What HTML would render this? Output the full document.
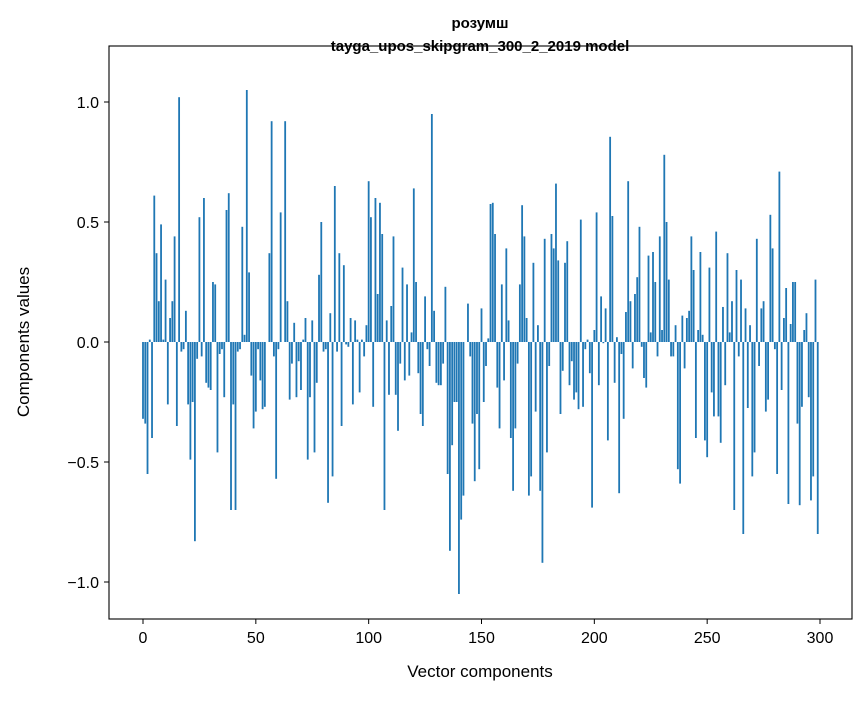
<!DOCTYPE html>
<html><head><meta charset="utf-8"><style>
html,body{margin:0;padding:0;background:#fff;}
svg text{font-family:"Liberation Sans","DejaVu Sans",sans-serif;fill:#000;}
</style></head><body>
<svg id="chart" width="867" height="696" xmlns="http://www.w3.org/2000/svg">
<text x="480" y="28" text-anchor="middle" font-size="15" font-weight="bold">розумш</text>
<text x="480" y="51" text-anchor="middle" font-size="15" font-weight="bold">tayga_upos_skipgram_300_2_2019 model</text>
<g id="bars"></g>
<rect x="109" y="46" width="743" height="573" fill="none" stroke="#000" stroke-width="1.1"/>
<g id="xt"></g>
<g id="yt"></g>
<text x="480" y="677" text-anchor="middle" font-size="17">Vector components</text>
<text transform="translate(29,342) rotate(-90)" text-anchor="middle" font-size="17">Components values</text>
</svg>
<script>
const xTicks=[0,50,100,150,200,250,300];
const yTicks=[-1.0,-0.5,0.0,0.5,1.0];
const yTickLabels=["−1.0","−0.5","0.0","0.5","1.0"];
const values=[
-0.32,-0.34,-0.55,0.01,-0.40,0.61,0.37,0.17,0.49,0.01,0.26,-0.26,0.10,0.17,0.44,-0.35,1.02,-0.04,-0.03,0.13,
-0.26,-0.49,-0.25,-0.83,-0.07,0.52,-0.06,0.60,-0.17,-0.19,-0.20,0.25,0.24,-0.46,-0.05,-0.03,-0.23,0.55,0.62,-0.70,
-0.26,-0.70,-0.04,-0.03,0.48,0.03,1.05,0.29,-0.14,-0.36,-0.29,-0.03,-0.16,-0.28,-0.27,0.0,0.37,0.92,-0.06,-0.57,
-0.03,0.54,0.0,0.92,0.17,-0.24,-0.09,0.08,-0.23,-0.08,-0.20,0.01,0.10,-0.49,-0.23,0.09,-0.46,-0.17,0.28,0.50,
-0.04,-0.03,-0.67,0.12,-0.56,0.65,-0.04,0.37,-0.35,0.32,-0.01,-0.02,0.10,-0.26,0.09,0.01,-0.21,0.01,-0.06,
0.07,0.67,0.52,-0.27,0.60,0.20,0.58,0.45,-0.70,0.09,-0.22,0.15,0.44,-0.22,-0.37,-0.09,0.31,-0.16,0.24,-0.14,
0.04,0.64,0.25,-0.13,-0.30,-0.35,0.19,-0.03,-0.10,0.95,0.13,-0.17,-0.18,-0.18,-0.09,0.23,-0.55,-0.87,-0.43,-0.25,
-0.25,-1.05,-0.74,-0.64,0.0,0.16,-0.06,-0.34,-0.58,-0.30,-0.53,0.14,-0.25,
-0.10,0.015,0.575,0.58,0.45,-0.19,-0.36,0.24,-0.16,0.39,
0.09,-0.40,-0.62,-0.36,-0.09,0.24,0.57,0.44,0.10,-0.64,
-0.56,0.33,-0.29,0.07,-0.62,-0.92,0.43,-0.46,-0.10,0.45,
0.39,0.66,0.34,-0.30,-0.12,0.33,0.42,-0.18,-0.08,-0.24,
-0.21,-0.28,0.51,-0.27,-0.03,0.01,-0.13,-0.69,0.05,0.54,-0.18,
0.19,-0.005,0.14,-0.41,0.855,0.525,-0.17,0.02,-0.63,-0.05,
-0.32,0.125,0.67,0.17,-0.11,0.20,0.27,0.48,-0.02,-0.15,
-0.19,0.36,0.04,0.375,0.25,-0.06,0.44,0.05,0.78,0.50,
0.26,-0.06,-0.06,0.07,-0.53,-0.59,0.11,-0.11,0.10,0.13,
0.44,0.30,-0.40,0.05,0.375,0.03,-0.41,-0.48,0.31,-0.21,
-0.31,0.46,-0.31,
-0.42,0.146,-0.18,0.37,0.04,0.17,-0.70,0.30,-0.06,0.26,
-0.80,0.14,-0.275,0.07,-0.56,-0.46,0.43,-0.10,0.14,0.17,
-0.29,-0.24,0.53,0.39,-0.03,-0.55,0.71,-0.20,0.10,0.225,
-0.675,0.075,0.25,0.25,-0.34,-0.68,-0.27,0.05,0.12,-0.23,
-0.66,-0.56,0.26,-0.80
];
const categories=values.map((v,i)=>i);
const NS="http://www.w3.org/2000/svg";
const xs=v=>143+(v/300)*677;
const ys=v=>342-v*240;
const bw=0.8*677/300;
const bars=document.getElementById('bars');
categories.forEach((c,i)=>{
  const v=values[i];
  const r=document.createElementNS(NS,'rect');
  r.setAttribute('x',xs(c)-bw/2);
  r.setAttribute('y',Math.min(ys(v),ys(0)));
  r.setAttribute('width',bw);
  r.setAttribute('height',Math.abs(ys(v)-ys(0)));
  r.setAttribute('fill','#1f77b4');
  
  
  bars.appendChild(r);
});
const xt=document.getElementById('xt');
xTicks.forEach(t=>{
  const l=document.createElementNS(NS,'line');
  l.setAttribute('x1',xs(t));l.setAttribute('x2',xs(t));
  l.setAttribute('y1',619);l.setAttribute('y2',624);
  l.setAttribute('stroke','#000');
  
  
  xt.appendChild(l);
  const tx=document.createElementNS(NS,'text');
  tx.setAttribute('x',xs(t));tx.setAttribute('y',643);
  tx.setAttribute('text-anchor','middle');tx.setAttribute('font-size','16');
  tx.textContent=t;
  
  
  xt.appendChild(tx);
});
const yt=document.getElementById('yt');
yTicks.forEach((t,i)=>{
  const l=document.createElementNS(NS,'line');
  l.setAttribute('x1',104);l.setAttribute('x2',109);
  l.setAttribute('y1',ys(t));l.setAttribute('y2',ys(t));
  l.setAttribute('stroke','#000');
  
  
  yt.appendChild(l);
  const tx=document.createElementNS(NS,'text');
  tx.setAttribute('x',99);tx.setAttribute('y',ys(t)+6);
  tx.setAttribute('text-anchor','end');tx.setAttribute('font-size','16');
  tx.textContent=yTickLabels[i];
  
  
  yt.appendChild(tx);
});
</script>
</body></html>
